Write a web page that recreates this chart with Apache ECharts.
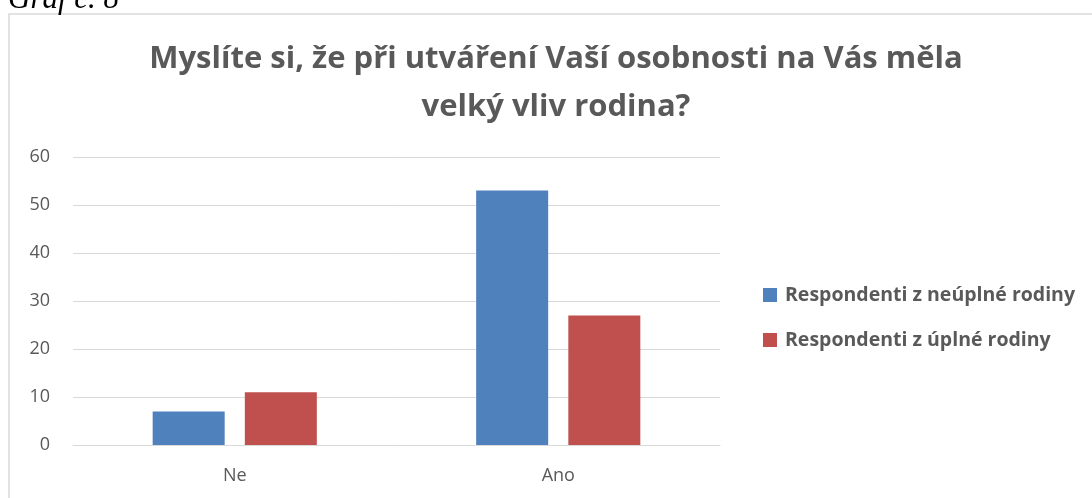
<!DOCTYPE html>
<html><head><meta charset="utf-8">
<script src="https://cdn.jsdelivr.net/npm/echarts@6/dist/echarts.min.js"></script>
<style>html,body{margin:0;padding:0;background:#fff}#c{width:1092px;height:498px}</style>
</head><body><div id="c"></div>
<script>
const categories = ['Ne', 'Ano'];
const seriesNames = ['Respondenti z neúplné rodiny', 'Respondenti z úplné rodiny'];
const incomplete = [7, 53];
const complete = [11, 27];
const yTicks = [0, 10, 20, 30, 40, 50, 60];
const titleText = 'Myslíte si, že při utváření Vaší osobnosti na Vás měla\nvelký vliv rodina?';
const captionText = 'Graf č. 8';

const chart = echarts.init(document.getElementById('c'), null, {renderer: 'canvas'});
const txt = '#595959';
chart.setOption({
  animation: false,
  backgroundColor: '#fff',
  title: {
    text: titleText, left: 556, top: 35, textAlign: 'center', padding: 0,
    textStyle: {fontFamily: 'Open Sans', fontWeight: 'bold', fontSize: 31, color: txt, lineHeight: 48}
  },
  graphic: [
    {type: 'rect', shape: {x: 9, y: 14, width: 1100, height: 500}, style: {fill: 'none', stroke: '#d9d9d9', lineWidth: 1.5}, z: -1},
    {type: 'text', x: 8, y: 0, style: {text: captionText, font: 'italic 31px "Liberation Serif"', fill: '#000', verticalAlign: 'middle'}}
  ],
  legend: {
    orient: 'vertical', left: 763, top: 285, padding: 0, itemGap: 25, itemWidth: 14, itemHeight: 14,
    icon: 'rect', textStyle: {fontFamily: 'Open Sans', fontWeight: 'bold', fontSize: 19.5, color: txt, padding: [0, 0, 0, 3]},
    data: seriesNames
  },
  grid: {left: 73, right: 372, top: 157, bottom: 53, containLabel: false},
  xAxis: {
    type: 'category', data: categories,
    axisLine: {lineStyle: {color: '#d9d9d9', width: 1}}, axisTick: {show: false},
    axisLabel: {color: txt, fontFamily: 'Open Sans', fontSize: 18, margin: 22}
  },
  yAxis: {
    type: 'value', min: yTicks[0], max: yTicks[yTicks.length - 1], interval: 10,
    axisLine: {show: false}, axisTick: {show: false},
    splitLine: {lineStyle: {color: '#d9d9d9', width: 1}},
    axisLabel: {color: txt, fontFamily: 'Open Sans', fontSize: 18, margin: 23}
  },
  series: [
    {name: seriesNames[0], type: 'bar', data: incomplete, barWidth: 72, barGap: '28%', itemStyle: {color: '#4f81bd'}},
    {name: seriesNames[1], type: 'bar', data: complete, barWidth: 72, itemStyle: {color: '#c0504d'}}
  ]
});
</script></body></html>
